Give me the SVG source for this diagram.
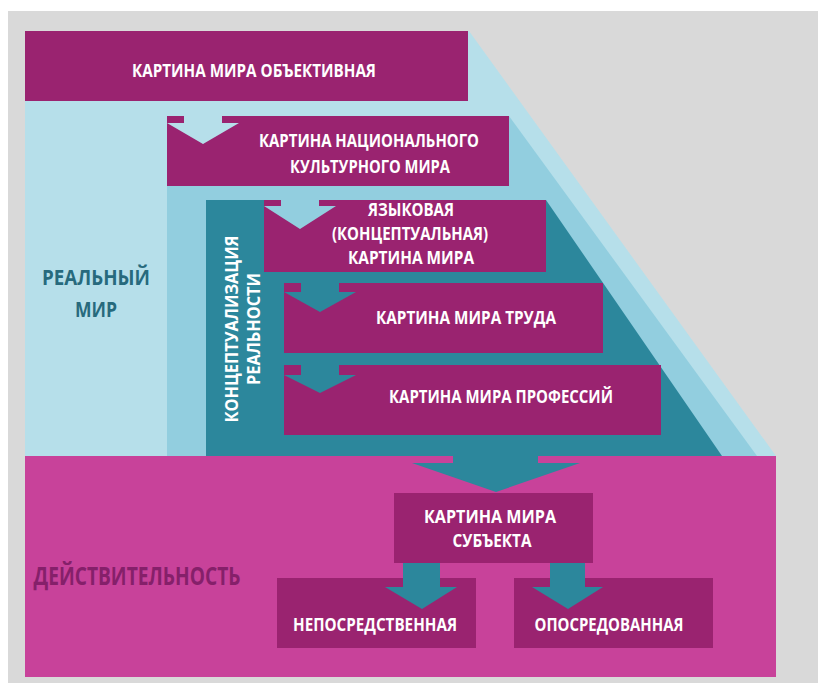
<svg xmlns="http://www.w3.org/2000/svg" width="818" height="683" viewBox="0 0 818 683">
<defs>
<style>
.bx{fill:#9a2370}
.t{font-family:"Open Sans","Liberation Sans",sans-serif;font-weight:700;font-size:17px;fill:#ffffff;text-anchor:middle}
.lbl{font-family:"Open Sans","Liberation Sans",sans-serif;font-weight:700;text-anchor:middle}
.teal{fill:#2c879c}
</style>
</defs>
<rect x="0" y="0" width="818" height="683" fill="#ffffff"/>
<rect x="8" y="11" width="810" height="672" fill="#d9d9d9"/>
<g id="layers">
<polygon points="25,31 469,31 776,456 25,456" fill="#b6dfea"/>
<polygon points="167,116 509,116 757,456 167,456" fill="#92cedf"/>
<polygon points="206,200 546,200 722,456 206,456" fill="#2c879c"/>
<rect x="25" y="456" width="751" height="221" fill="#c8429a"/>
</g>
<g id="labels">
<text class="lbl" x="96" y="285" font-size="22" fill="#276a7d" textLength="108" lengthAdjust="spacingAndGlyphs">РЕАЛЬНЫЙ</text>
<text class="lbl" x="96" y="317" font-size="22" fill="#276a7d" textLength="42" lengthAdjust="spacingAndGlyphs">МИР</text>
<text class="lbl" x="137" y="585" font-size="25" fill="#85206a" textLength="207" lengthAdjust="spacingAndGlyphs">ДЕЙСТВИТЕЛЬНОСТЬ</text>
<text class="lbl" transform="translate(238,329) rotate(-90)" font-size="18" fill="#ffffff" textLength="187" lengthAdjust="spacingAndGlyphs">КОНЦЕПТУАЛИЗАЦИЯ</text>
<text class="lbl" transform="translate(260,329) rotate(-90)" font-size="18" fill="#ffffff" textLength="112" lengthAdjust="spacingAndGlyphs">РЕАЛЬНОСТИ</text>
</g>
<g id="n1">
<rect class="bx" x="25" y="31" width="443" height="70"/>
<text class="t" x="254" y="77" textLength="244" lengthAdjust="spacingAndGlyphs">КАРТИНА МИРА ОБЪЕКТИВНАЯ</text>
</g>
<g id="n2">
<rect class="bx" x="167" y="116" width="342" height="70"/>
<text class="t" x="369" y="147" textLength="220" lengthAdjust="spacingAndGlyphs">КАРТИНА НАЦИОНАЛЬНОГО</text>
<text class="t" x="370" y="173" textLength="160" lengthAdjust="spacingAndGlyphs">КУЛЬТУРНОГО МИРА</text>
</g>
<g id="n3">
<rect class="bx" x="264" y="200" width="282" height="72"/>
<text class="t" x="411" y="216" textLength="86" lengthAdjust="spacingAndGlyphs">ЯЗЫКОВАЯ</text>
<text class="t" x="410" y="240" textLength="156" lengthAdjust="spacingAndGlyphs">(КОНЦЕПТУАЛЬНАЯ)</text>
<text class="t" x="411" y="264" textLength="126" lengthAdjust="spacingAndGlyphs">КАРТИНА МИРА</text>
</g>
<g id="n4">
<rect class="bx" x="284" y="283" width="319" height="70"/>
<text class="t" x="466" y="324" textLength="180" lengthAdjust="spacingAndGlyphs">КАРТИНА МИРА ТРУДА</text>
</g>
<g id="n5">
<rect class="bx" x="284" y="365" width="377" height="70"/>
<text class="t" x="501" y="403" textLength="224" lengthAdjust="spacingAndGlyphs">КАРТИНА МИРА ПРОФЕССИЙ</text>
</g>
<g id="n6">
<rect class="bx" x="394" y="493" width="199" height="70"/>
<text class="t" x="490" y="523" textLength="132" lengthAdjust="spacingAndGlyphs">КАРТИНА МИРА</text>
<text class="t" x="492" y="547" textLength="79" lengthAdjust="spacingAndGlyphs">СУБЪЕКТА</text>
</g>
<g id="n7">
<rect class="bx" x="277" y="578" width="199" height="70"/>
<text class="t" x="375" y="631" textLength="164" lengthAdjust="spacingAndGlyphs">НЕПОСРЕДСТВЕННАЯ</text>
</g>
<g id="n8">
<rect class="bx" x="514" y="578" width="199" height="70"/>
<text class="t" x="609" y="631" textLength="149" lengthAdjust="spacingAndGlyphs">ОПОСРЕДОВАННАЯ</text>
</g>
<g id="connectors">
<path d="M184,116 L222,116 L222,123 L239,123 L203,144 L167,123 L184,123 Z" fill="#b6dfea"/>
<path d="M281,200 L319,200 L319,206 L336,206 L300,229 L264,206 L281,206 Z" fill="#92cedf"/>
<path class="teal" d="M301,283 L339,283 L339,292 L356,292 L320,312 L284,292 L301,292 Z"/>
<path class="teal" d="M301,365 L339,365 L339,375 L356,375 L320,393 L284,375 L301,375 Z"/>
<path class="teal" d="M453,455 L538,455 L538,463 L580,463 L496,492 L412,463 L453,463 Z"/>
<path class="teal" d="M403,563 L440,563 L440,587 L457,587 L422,609 L385,587 L403,587 Z"/>
<path class="teal" d="M550,563 L585,563 L585,587 L603,587 L568,609 L532,587 L550,587 Z"/>
</g>
</svg>
